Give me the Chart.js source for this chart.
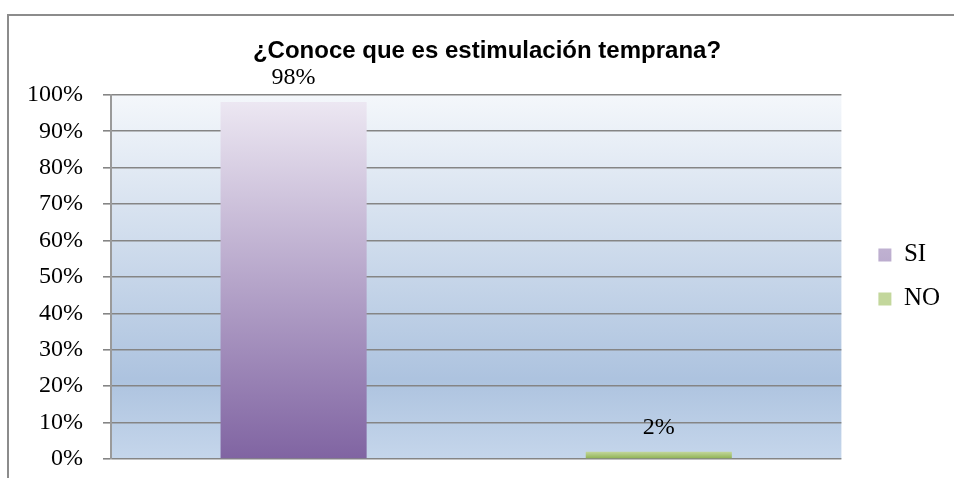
<!DOCTYPE html>
<html>
<head>
<meta charset="utf-8">
<script src="https://cdn.jsdelivr.net/npm/chart.js@4.4.0/dist/chart.umd.min.js"></script>
<style>
  html, body { margin: 0; padding: 0; background: #fff; overflow: hidden; }
</style>
</head>
<body>
<canvas id="chart" width="954" height="478"></canvas>
<script>
const categories = [''];
const seriesNames = ['SI', 'NO'];
const siValues = [98];
const noValues = [2];
const yTickValues = [0, 10, 20, 30, 40, 50, 60, 70, 80, 90, 100];

const serif = '"Times New Roman", "Liberation Serif", serif';
const gridGray = '#858585';

// vertical gradient over the bar itself, solid colour for the legend box
function barFill(top, bottom, solid) {
  return (ctx) => {
    if (ctx.type !== 'data') return solid;
    const chart = ctx.chart;
    if (!chart.chartArea) return solid;
    const y = chart.scales.y;
    const g = chart.ctx.createLinearGradient(0, y.getPixelForValue(ctx.raw), 0, y.getPixelForValue(0));
    g.addColorStop(0, top);
    g.addColorStop(1, bottom);
    return g;
  };
}

const backdrop = {
  id: 'backdrop',
  beforeDraw(chart) {
    const { ctx, chartArea: a } = chart;
    ctx.save();
    const g = ctx.createLinearGradient(0, a.top, 0, a.bottom);
    g.addColorStop(0, '#f4f7fb');
    g.addColorStop(0.78, '#adc3df');
    g.addColorStop(1, '#c5d6eb');
    ctx.fillStyle = g;
    ctx.fillRect(a.left, a.top, a.right - a.left, a.bottom - a.top);
    // outer chart frame
    ctx.strokeStyle = '#8c8c8c';
    ctx.lineWidth = 2;
    ctx.beginPath();
    ctx.moveTo(8, 478);
    ctx.lineTo(8, 15);
    ctx.lineTo(954, 15);
    ctx.stroke();
    ctx.restore();
  },
  afterLayout(chart) {
    chart.titleBlock.left += 24;
  }
};

const valueLabels = {
  id: 'valueLabels',
  afterDatasetsDraw(chart) {
    const ctx = chart.ctx;
    ctx.save();
    ctx.font = '24px ' + serif;
    ctx.fillStyle = '#000';
    ctx.textAlign = 'center';
    ctx.textBaseline = 'alphabetic';
    chart.data.datasets.forEach((ds, i) => {
      chart.getDatasetMeta(i).data.forEach((bar, j) => {
        ctx.fillText(ds.data[j] + '%', bar.x, bar.y - 18);
      });
    });
    ctx.restore();
  }
};

new Chart(document.getElementById('chart'), {
  type: 'bar',
  data: {
    labels: categories,
    datasets: [
      {
        label: seriesNames[0],
        data: siValues,
        backgroundColor: barFill('#ece7f2', '#8064a2', '#b9abcf')
      },
      {
        label: seriesNames[1],
        data: noValues,
        backgroundColor: barFill('#c3d79c', '#8cb04f', '#a5c46c')
      }
    ]
  },
  options: {
    responsive: false,
    animation: false,
    layout: { padding: { left: 0, right: 4, top: 0, bottom: 19 } },
    datasets: { bar: { categoryPercentage: 1, barPercentage: 0.4 } },
    scales: {
      x: { display: false },
      y: {
        min: 0,
        max: 100,
        afterBuildTicks: (s) => { s.ticks = yTickValues.map(v => ({ value: v })); },
        afterFit: (s) => {
          s.width = 111;
          s.paddingTop = 0;
          s.paddingBottom = 0;
        },
        ticks: {
          padding: 20,
          color: '#000',
          font: { family: serif, size: 24 },
          callback: (v) => v + '%'
        },
        grid: { color: gridGray, lineWidth: 1.6, tickLength: 8, tickColor: gridGray },
        border: { color: '#9a9a9a', width: 2 }
      },
      gap: {
        type: 'linear',
        position: 'right',
        grid: { display: false },
        ticks: { display: false },
        border: { display: false },
        afterFit: (s) => { s.width = 18; }
      }
    },
    plugins: {
      title: {
        display: true,
        text: '¿Conoce que es estimulación temprana?',
        color: '#000',
        font: { family: 'Arial, "Liberation Sans", sans-serif', size: 24, weight: 'bold' },
        padding: { top: 37, bottom: 29 }
      },
      legend: {
        position: 'right',
        fullSize: false,
        labels: {
          color: '#000',
          font: { family: serif, size: 25 },
          boxWidth: 13,
          boxHeight: 13,
          padding: 19
        }
      },
      tooltip: { enabled: false }
    }
  },
  plugins: [backdrop, valueLabels]
});
</script>
</body>
</html>
